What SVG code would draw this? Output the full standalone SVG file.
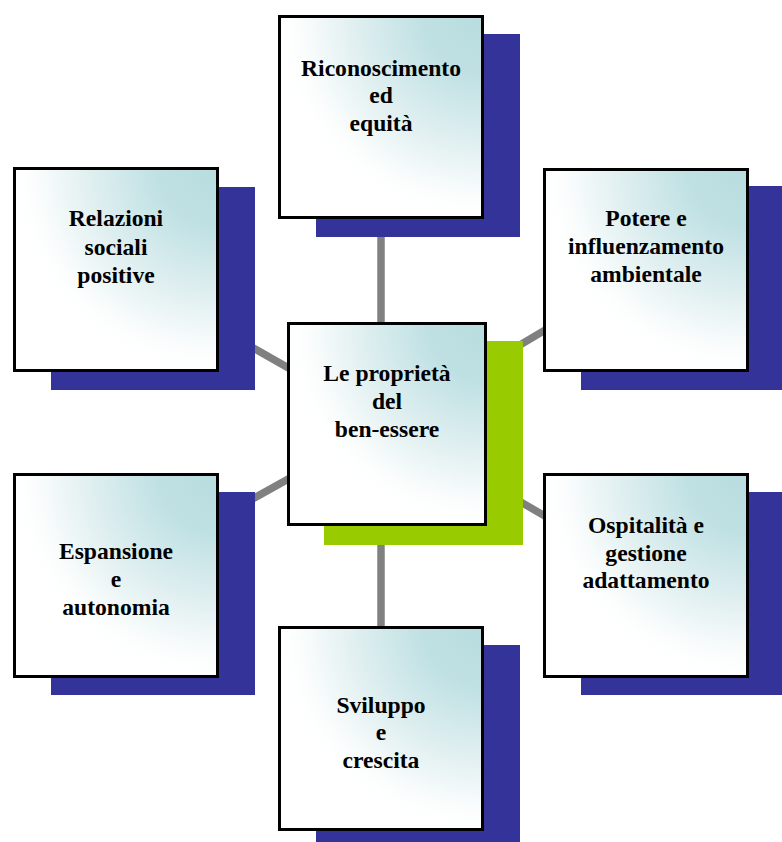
<svg xmlns="http://www.w3.org/2000/svg" width="782" height="842" viewBox="0 0 782 842">
<defs>
<radialGradient id="g" cx="1" cy="0" r="1" fx="1" fy="0">
<stop offset="0" stop-color="#b8dcdf"/>
<stop offset="0.3" stop-color="#c0e1e4"/>
<stop offset="0.65" stop-color="#e2f0f1"/>
<stop offset="0.9" stop-color="#fbfdfd"/>
<stop offset="1" stop-color="#ffffff"/>
</radialGradient>
</defs>
<style>
.box{fill:url(#g);stroke:#000;stroke-width:3}
.sh{fill:#333399}
.shc{fill:#99cc00}
.ln{stroke:#808080;stroke-width:7.5;fill:none}
text{font-family:"Liberation Serif","Times New Roman",serif;font-weight:bold;font-size:23.6px;fill:#000;text-anchor:middle}
</style>
<rect width="782" height="842" fill="#ffffff"/>
<g id="connectors">
<line class="ln" x1="381" y1="117" x2="381" y2="424"/>
<line class="ln" x1="381" y1="424" x2="381" y2="728"/>
<line class="ln" x1="387" y1="424" x2="116" y2="270"/>
<line class="ln" x1="387" y1="424" x2="646" y2="270"/>
<line class="ln" x1="387" y1="424" x2="116" y2="575"/>
<line class="ln" x1="387" y1="424" x2="646" y2="575"/>
</g>
<g id="n-top">
<rect class="sh" x="316" y="34" width="204" height="203"/>
<rect class="box" x="279.5" y="16.5" width="203" height="201"/>
<text x="381" y="76">Riconoscimento</text>
<text x="381" y="103">ed</text>
<text x="381" y="131">equità</text>
</g>
<g id="n-ul">
<rect class="sh" x="51" y="187" width="204" height="203"/>
<rect class="box" x="14.5" y="168.5" width="203" height="202"/>
<text x="116" y="226">Relazioni</text>
<text x="116" y="255">sociali</text>
<text x="116" y="283">positive</text>
</g>
<g id="n-ur">
<rect class="sh" x="581" y="186" width="204" height="204"/>
<rect class="box" x="544.5" y="169.5" width="203" height="201"/>
<text x="646" y="226">Potere e</text>
<text x="646" y="254">influenzamento</text>
<text x="646" y="282">ambientale</text>
</g>
<g id="n-ll">
<rect class="sh" x="51" y="492" width="204" height="203"/>
<rect class="box" x="14.5" y="474.5" width="203" height="202"/>
<text x="116" y="559">Espansione</text>
<text x="116" y="587">e</text>
<text x="116" y="615">autonomia</text>
</g>
<g id="n-lr">
<rect class="sh" x="581" y="492" width="204" height="203"/>
<rect class="box" x="544.5" y="474.5" width="203" height="202"/>
<text x="646" y="533">Ospitalità e</text>
<text x="646" y="561">gestione</text>
<text x="646" y="588">adattamento</text>
</g>
<g id="n-bottom">
<rect class="sh" x="316" y="645" width="204" height="204"/>
<rect class="box" x="279.5" y="627.5" width="203" height="202"/>
<text x="381" y="713">Sviluppo</text>
<text x="381" y="740">e</text>
<text x="381" y="768">crescita</text>
</g>
<g id="n-center">
<rect class="shc" x="324" y="341" width="199" height="204"/>
<rect class="box" x="288.5" y="323.5" width="197" height="201"/>
<text x="387" y="381">Le proprietà</text>
<text x="387" y="409">del</text>
<text x="387" y="437">ben-essere</text>
</g>
</svg>
